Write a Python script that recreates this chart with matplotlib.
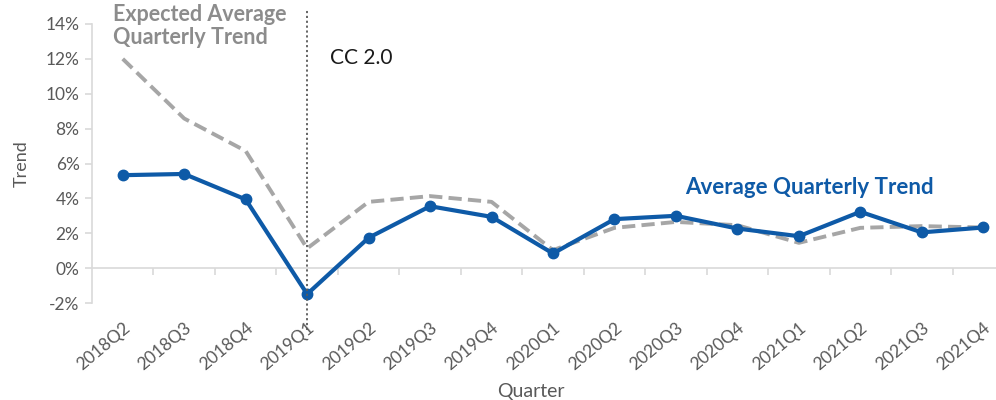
import matplotlib
matplotlib.use("Agg")
import matplotlib.pyplot as plt
from matplotlib.ticker import FuncFormatter, FixedLocator

plt.rcParams['font.family'] = ['Lato', 'DejaVu Sans']

quarters = ["2018Q2", "2018Q3", "2018Q4", "2019Q1", "2019Q2", "2019Q3", "2019Q4",
            "2020Q1", "2020Q2", "2020Q3", "2020Q4", "2021Q1", "2021Q2", "2021Q3", "2021Q4"]
avg_trend = [5.33, 5.40, 3.94, -1.49, 1.74, 3.55, 2.94, 0.84, 2.81, 3.00, 2.27, 1.83, 3.23, 2.05, 2.33]
expected_trend = [12.0, 8.58, 6.72, 1.13, 3.80, 4.13, 3.80, 1.03, 2.31, 2.65, 2.46, 1.45, 2.31, 2.41, 2.33]
y_ticks = [-2, 0, 2, 4, 6, 8, 10, 12, 14]

blue = "#0E5AA7"
gray_line = "#A6A6A6"
axis_gray = "#D9D9D9"
label_gray = "#595959"

fig = plt.figure(figsize=(9.96, 4.0), dpi=100)
ax = fig.add_axes([92/996, 1-303/400, 922/996, 279/400])

x = list(range(len(quarters)))
ax.plot(x, expected_trend, color=gray_line, lw=2.8, dashes=(3.4, 1.6), zorder=2)
ax.plot(x, avg_trend, color=blue, lw=3.0, marker='o', markersize=7.5, zorder=3)

ax.set_xlim(-0.5, len(quarters) - 0.5)
ax.set_ylim(-2, 14)

for s in ['top', 'right', 'bottom']:
    ax.spines[s].set_visible(False)
ax.spines['left'].set_color(axis_gray)
ax.spines['left'].set_linewidth(1.2)

ax.yaxis.set_major_locator(FixedLocator(y_ticks))
ax.yaxis.set_major_formatter(FuncFormatter(lambda v, p: f"{v:.0f}%"))
ax.tick_params(axis='y', colors=axis_gray, labelcolor=label_gray, labelsize=12.5, length=5, width=1.2, pad=4)

ax.set_xticks(x)
ax.set_xticklabels(quarters, rotation=40, ha='right', rotation_mode='anchor')
ax.tick_params(axis='x', length=0, labelcolor=label_gray, labelsize=12.5, pad=12)

# zero axis line with boundary ticks
ax.axhline(0, color=axis_gray, lw=1.2, zorder=1)
sec = ax.secondary_xaxis(2/16)
sec.set_xticks([i + 0.5 for i in x[:-1]])
sec.tick_params(axis='x', length=5, width=1.2, colors=axis_gray, labelbottom=False)
sec.spines['bottom'].set_visible(False)

ax.set_ylabel("Trend", color=label_gray, fontsize=13)
ax.yaxis.set_label_coords(-0.068, 0.5)
ax.set_xlabel("Quarter", color=label_gray, fontsize=14)
ax.xaxis.set_label_coords((531-92)/922, -0.285)

# vertical dotted line at 2019Q1
ax.axvline(3, ymin=-0.097, ymax=1.05, color="#595959", lw=1.3, ls=(0, (1.2, 1.5)), clip_on=False, zorder=4)

fig.text(113/996, 1-4/400, "Expected Average\nQuarterly Trend", color="#8C8C8C", fontsize=15.5,
         fontweight='bold', ha='left', va='top', linespacing=1.1)
fig.text(330/996, 1-58/400, "CC 2.0", color="#1A1A1A", fontsize=15, ha='left', va='center')
fig.text(685/996, 1-188/400, "Average Quarterly Trend", color=blue, fontsize=16,
         fontweight='bold', ha='left', va='center')

fig.savefig("out.png", dpi=100)
